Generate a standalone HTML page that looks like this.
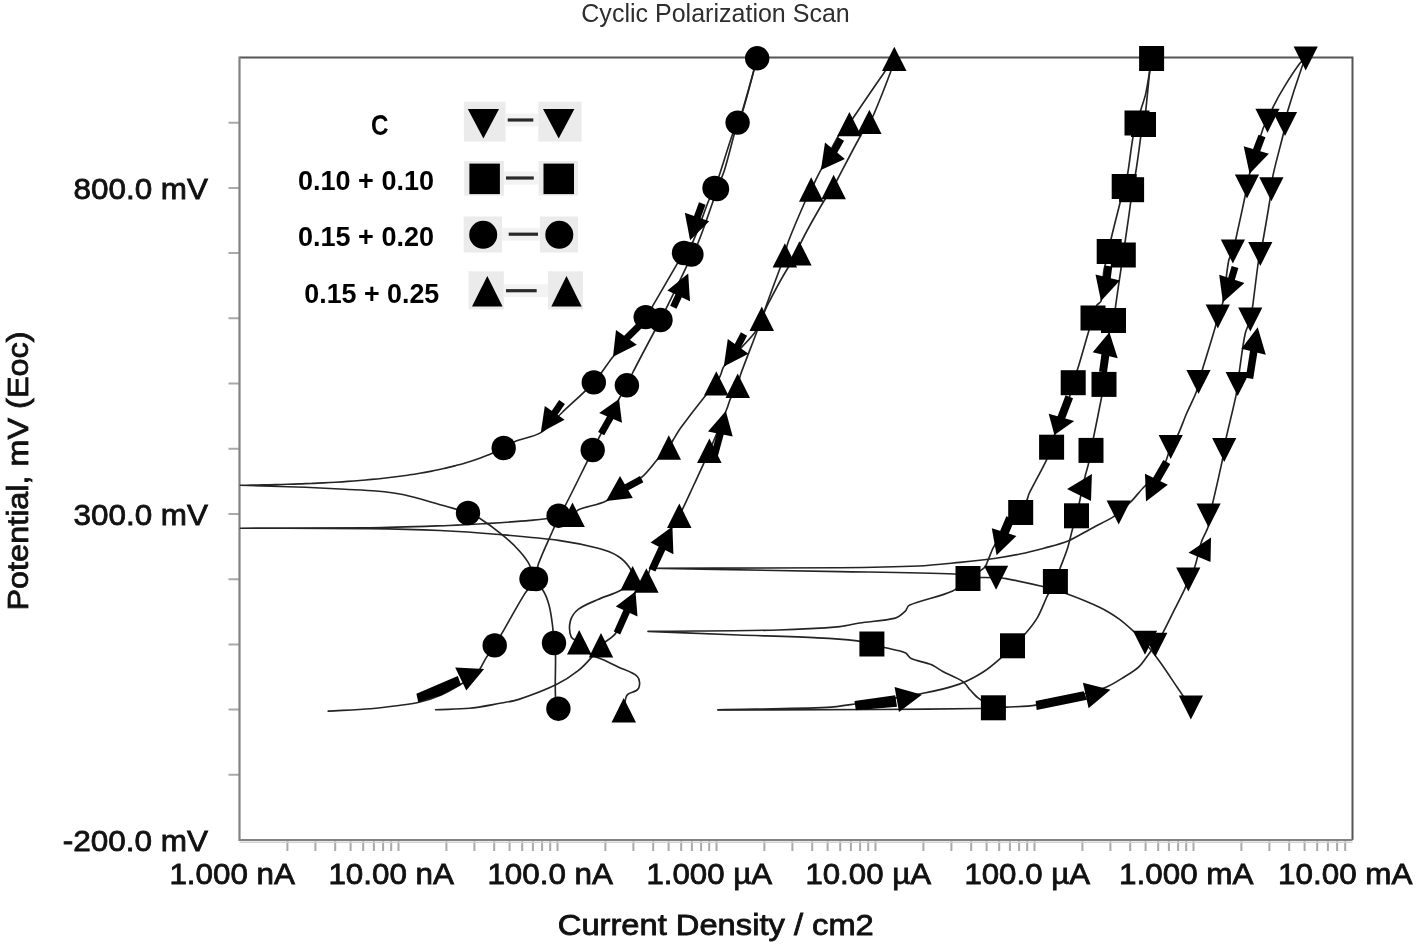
<!DOCTYPE html><html><head><meta charset="utf-8"><style>html,body{margin:0;padding:0;background:#fff;}svg{display:block;}</style></head><body>
<svg width="1416" height="946" viewBox="0 0 1416 946">
<rect width="100%" height="100%" fill="#fff"/>
<text x="581.3" y="22.4" font-family="Liberation Sans, Arial, sans-serif" font-size="25.6" fill="#2e2e2e" textLength="268.5" lengthAdjust="spacingAndGlyphs">Cyclic Polarization Scan</text>
<path d="M228.5 774.8H239.5 M228.5 709.6H239.5 M228.5 644.4H239.5 M228.5 579.2H239.5 M228.5 514.0H239.5 M228.5 448.8H239.5 M228.5 383.5H239.5 M228.5 318.3H239.5 M228.5 253.1H239.5 M228.5 187.9H239.5 M228.5 122.7H239.5 M287.4 840V851 M315.4 840V851 M335.2 840V851 M350.6 840V851 M363.2 840V851 M373.9 840V851 M383.1 840V851 M391.2 840V851 M398.5 840V851 M446.4 840V851 M474.4 840V851 M494.2 840V851 M509.6 840V851 M522.2 840V851 M532.9 840V851 M542.1 840V851 M550.2 840V851 M557.5 840V851 M605.4 840V851 M633.4 840V851 M653.2 840V851 M668.6 840V851 M681.2 840V851 M691.9 840V851 M701.1 840V851 M709.2 840V851 M716.5 840V851 M764.4 840V851 M792.4 840V851 M812.2 840V851 M827.6 840V851 M840.2 840V851 M850.9 840V851 M860.1 840V851 M868.2 840V851 M875.5 840V851 M923.4 840V851 M951.4 840V851 M971.2 840V851 M986.6 840V851 M999.2 840V851 M1009.9 840V851 M1019.1 840V851 M1027.2 840V851 M1034.5 840V851 M1082.4 840V851 M1110.4 840V851 M1130.2 840V851 M1145.6 840V851 M1158.2 840V851 M1168.9 840V851 M1178.1 840V851 M1186.2 840V851 M1193.5 840V851 M1241.4 840V851 M1269.4 840V851 M1289.2 840V851 M1304.6 840V851 M1317.2 840V851 M1327.9 840V851 M1337.1 840V851 M1345.2 840V851" stroke="#aaaaaa" stroke-width="2" fill="none"/>
<path d="M239.5 842.2H1352.5" stroke="#d2d2d2" stroke-width="1.6"/>
<path d="M239.5 57.5H1352.5V840" stroke="#555" stroke-width="2" fill="none"/>
<path d="M239.5 56.5V840H1352.5" stroke="#828282" stroke-width="2.2" fill="none"/>
<text x="73.5" y="198.7" font-family="Liberation Sans, Arial, sans-serif" stroke="#111" stroke-width="0.8" font-size="29" fill="#111" textLength="134.5" lengthAdjust="spacingAndGlyphs">800.0 mV</text>
<text x="73.5" y="524.8" font-family="Liberation Sans, Arial, sans-serif" stroke="#111" stroke-width="0.8" font-size="29" fill="#111" textLength="134.5" lengthAdjust="spacingAndGlyphs">300.0 mV</text>
<text x="62.7" y="850.8" font-family="Liberation Sans, Arial, sans-serif" stroke="#111" stroke-width="0.8" font-size="29" fill="#111" textLength="145.3" lengthAdjust="spacingAndGlyphs">-200.0 mV</text>
<text x="169.4" y="884.3" font-family="Liberation Sans, Arial, sans-serif" stroke="#111" stroke-width="0.8" font-size="28.8" fill="#111" textLength="125.6" lengthAdjust="spacingAndGlyphs">1.000 nA</text>
<text x="328.4" y="884.3" font-family="Liberation Sans, Arial, sans-serif" stroke="#111" stroke-width="0.8" font-size="28.8" fill="#111" textLength="125.6" lengthAdjust="spacingAndGlyphs">10.00 nA</text>
<text x="487.4" y="884.3" font-family="Liberation Sans, Arial, sans-serif" stroke="#111" stroke-width="0.8" font-size="28.8" fill="#111" textLength="125.6" lengthAdjust="spacingAndGlyphs">100.0 nA</text>
<text x="646.4" y="884.3" font-family="Liberation Sans, Arial, sans-serif" stroke="#111" stroke-width="0.8" font-size="28.8" fill="#111" textLength="125.6" lengthAdjust="spacingAndGlyphs">1.000 µA</text>
<text x="805.4" y="884.3" font-family="Liberation Sans, Arial, sans-serif" stroke="#111" stroke-width="0.8" font-size="28.8" fill="#111" textLength="125.6" lengthAdjust="spacingAndGlyphs">10.00 µA</text>
<text x="964.4" y="884.3" font-family="Liberation Sans, Arial, sans-serif" stroke="#111" stroke-width="0.8" font-size="28.8" fill="#111" textLength="125.6" lengthAdjust="spacingAndGlyphs">100.0 µA</text>
<text x="1119.0" y="884.3" font-family="Liberation Sans, Arial, sans-serif" stroke="#111" stroke-width="0.8" font-size="28.8" fill="#111" textLength="134.5" lengthAdjust="spacingAndGlyphs">1.000 mA</text>
<text x="1278.0" y="884.3" font-family="Liberation Sans, Arial, sans-serif" stroke="#111" stroke-width="0.8" font-size="28.8" fill="#111" textLength="134.5" lengthAdjust="spacingAndGlyphs">10.00 mA</text>
<text x="557.8" y="934.6" font-family="Liberation Sans, Arial, sans-serif" stroke="#111" stroke-width="0.8" font-size="28.8" fill="#111" textLength="316" lengthAdjust="spacingAndGlyphs">Current Density / cm2</text>
<text transform="translate(27.6,610.5) rotate(-90)" x="0" y="0" font-family="Liberation Sans, Arial, sans-serif" stroke="#111" stroke-width="0.8" font-size="29.5" fill="#111" textLength="279" lengthAdjust="spacingAndGlyphs">Potential, mV (Eoc)</text>
<text x="371" y="135.3" font-family="Liberation Sans, Arial, sans-serif" font-weight="bold" font-size="29.5" fill="#000" textLength="17.5" lengthAdjust="spacingAndGlyphs">C</text>
<text x="298" y="190.2" font-family="Liberation Sans, Arial, sans-serif" font-weight="bold" font-size="27.5" fill="#000" textLength="136" lengthAdjust="spacingAndGlyphs">0.10 + 0.10</text>
<text x="298" y="245.7" font-family="Liberation Sans, Arial, sans-serif" font-weight="bold" font-size="27.5" fill="#000" textLength="136" lengthAdjust="spacingAndGlyphs">0.15 + 0.20</text>
<text x="304.3" y="303.4" font-family="Liberation Sans, Arial, sans-serif" font-weight="bold" font-size="27.5" fill="#000" textLength="135" lengthAdjust="spacingAndGlyphs">0.15 + 0.25</text>
<rect x="463.9" y="101.7" width="41.6" height="39.9" fill="#ebebeb"/>
<rect x="538.3" y="101.7" width="43.3" height="39.9" fill="#ebebeb"/>
<rect x="505.5" y="113.5" width="32.8" height="13" fill="#f3f3f3"/>
<path d="M507.7 120H533.3" stroke="#2a2a2a" stroke-width="3.2"/>
<rect x="464.2" y="161" width="39.7" height="34.6" fill="#ebebeb"/>
<rect x="538.6" y="161" width="39.3" height="34.6" fill="#ebebeb"/>
<rect x="503.9" y="171.5" width="34.7" height="13" fill="#f3f3f3"/>
<path d="M506 178H533.8" stroke="#2a2a2a" stroke-width="3.2"/>
<rect x="463.7" y="216.5" width="38.3" height="36.0" fill="#ebebeb"/>
<rect x="539.9" y="216.5" width="38.1" height="36.0" fill="#ebebeb"/>
<rect x="502" y="227.7" width="37.9" height="13" fill="#f3f3f3"/>
<path d="M508.7 234.2H538" stroke="#2a2a2a" stroke-width="3.2"/>
<rect x="468.6" y="271.3" width="35.2" height="38.2" fill="#ebebeb"/>
<rect x="548" y="271.3" width="35.0" height="38.2" fill="#ebebeb"/>
<rect x="503.8" y="284.2" width="44.2" height="13" fill="#f3f3f3"/>
<path d="M506 290.7H536.7" stroke="#2a2a2a" stroke-width="3.2"/>
<path d="M467.8 109.0H499.0L483.4 138.6Z" fill="#000"/>
<path d="M543.0 109.0H574.4L558.7 138.6Z" fill="#000"/>
<rect x="469.4" y="163.6" width="30.5" height="30.5" fill="#000"/>
<rect x="543.5" y="163.6" width="30.5" height="30.5" fill="#000"/>
<circle cx="483.2" cy="234.8" r="14" fill="#000"/>
<circle cx="559.3" cy="234.8" r="14" fill="#000"/>
<path d="M472.0 306.4H502.6L487.3 275.9Z" fill="#000"/>
<path d="M551.3 306.4H581.7L566.5 275.9Z" fill="#000"/>
<path d="M328.2 711.1 C342.3 710.3 357.9 709.7 370.6 708.7 C379.1 708.0 390.4 706.6 398.9 705.5 C405.3 704.6 413.8 703.6 420.0 702.0 C426.5 700.4 435.0 697.5 441.2 694.9 C447.0 692.4 454.2 688.2 459.6 685.0 C464.9 681.9 472.3 678.1 476.6 673.7 C480.6 669.6 483.3 662.2 486.4 657.4 C488.8 653.7 492.3 649.1 494.7 645.4 C497.0 641.8 499.9 636.9 502.0 633.2 C508.9 621.3 517.5 605.2 524.8 593.6 C527.7 588.9 533.7 584.0 536.0 579.0 C537.8 575.0 536.7 568.7 538.2 564.5 C542.2 553.1 549.4 538.6 554.1 527.5 C555.6 524.0 556.9 519.1 558.6 515.7 C560.4 512.2 563.8 508.2 565.6 504.8 C572.4 491.9 580.8 474.4 587.3 461.3 C589.0 457.9 591.0 453.3 592.7 450.0 C600.5 434.7 611.0 414.2 619.0 399.0 C621.2 394.8 624.7 389.5 626.9 385.3 C628.9 381.5 630.9 376.3 632.8 372.5 C639.2 360.0 648.0 343.4 654.6 331.0 C656.3 327.7 658.8 323.4 660.5 320.0 C668.3 304.4 678.6 283.5 686.0 267.7 C687.8 263.8 689.5 258.3 691.4 254.5 C693.1 250.9 696.5 246.7 698.0 243.0 C703.0 230.8 708.5 214.1 712.9 201.7 C714.2 197.9 715.6 192.8 717.0 189.0 C719.1 183.2 722.7 175.9 724.5 170.0 C728.9 155.9 733.2 136.7 737.6 122.6 C738.7 119.0 741.6 114.8 742.7 111.2 C747.5 95.5 752.4 75.9 757.2 58.3" stroke="#242424" stroke-width="1.65" fill="none" stroke-linejoin="round" stroke-linecap="round"/>
<path d="M757.2 58.3 C752.1 76.2 746.9 96.0 742.0 112.0 C741.0 115.3 739.0 119.4 737.6 122.6 C736.1 126.0 733.8 130.5 732.6 134.0 C728.1 146.9 722.9 164.4 718.6 177.3 C717.5 180.6 715.9 184.8 714.5 188.0 C712.8 191.9 710.2 196.8 708.6 200.7 C703.7 213.0 698.4 229.9 692.8 241.9 C691.0 245.7 686.5 249.5 684.0 253.0 C681.8 256.1 679.2 260.4 677.3 263.7 C669.8 276.4 660.1 293.5 652.6 306.2 C650.6 309.5 648.1 314.1 645.7 317.1 C636.2 329.2 622.6 344.6 613.0 356.7 C607.0 364.2 600.3 375.3 593.8 382.4 C585.1 391.9 572.0 403.1 562.6 412.0 C556.1 418.2 548.4 427.9 540.8 432.6 C533.8 436.9 522.6 438.4 515.0 441.5 C511.4 443.0 507.2 446.2 503.7 448.0 C500.2 449.8 495.4 452.0 491.7 453.6 C488.2 455.1 483.3 456.9 479.7 458.2 C476.1 459.5 471.3 461.1 467.7 462.2 C464.1 463.3 459.3 464.6 455.7 465.6 C452.1 466.5 447.3 467.7 443.7 468.5 C440.1 469.3 435.3 470.4 431.7 471.1 C428.1 471.8 423.3 472.7 419.7 473.3 C416.1 473.9 411.3 474.7 407.7 475.2 C404.1 475.7 399.3 476.3 395.7 476.8 C392.1 477.2 387.3 477.8 383.7 478.2 C380.1 478.6 375.3 479.1 371.7 479.4 C368.1 479.7 363.3 480.2 359.7 480.5 C356.1 480.8 351.3 481.1 347.7 481.4 C344.1 481.7 339.3 482.0 335.7 482.2 C332.1 482.4 327.3 482.7 323.7 482.9 C320.1 483.1 315.3 483.2 311.7 483.4 C308.1 483.5 303.3 483.8 299.7 483.9 C296.1 484.0 291.3 484.2 287.7 484.3 C284.1 484.4 279.3 484.5 275.7 484.6 C272.1 484.7 267.3 484.8 263.7 484.9 C260.1 485.0 255.3 485.0 251.7 485.1 C248.3 485.2 244.2 485.2 240.5 485.3 C262.1 486.0 285.8 486.6 305.2 487.3 C317.1 487.8 332.9 488.7 344.8 489.3 C354.2 489.8 366.7 490.1 376.0 491.0 C384.4 491.8 395.7 493.1 404.0 494.8 C414.3 497.0 427.7 501.1 437.8 504.0 C446.9 506.6 459.1 509.9 468.0 513.0 C471.7 514.3 476.7 516.4 480.0 518.5 C487.0 523.0 495.9 529.6 502.3 534.9 C507.7 539.3 514.6 545.5 519.2 550.7 C522.9 554.8 527.6 560.5 529.8 565.5 C531.4 569.2 529.6 575.2 531.5 578.8 C533.7 582.9 540.0 585.8 542.6 589.7 C545.4 593.8 547.7 600.2 549.0 605.0 C550.7 611.0 551.7 619.2 552.5 625.3 C553.2 630.6 553.5 637.7 554.0 643.0 C554.4 646.6 555.4 651.4 555.5 655.0 C555.8 667.6 554.8 684.4 555.5 697.0 C555.7 700.6 557.4 704.8 558.4 708.7" stroke="#242424" stroke-width="1.65" fill="none" stroke-linejoin="round" stroke-linecap="round"/>
<path d="M435.6 709.7 C446.9 709.2 459.4 709.3 469.5 708.3 C478.7 707.4 490.9 704.9 500.0 703.3 C505.7 702.3 513.4 701.2 518.9 699.4 C530.4 695.6 545.5 689.9 556.4 684.6 C563.4 681.2 572.1 675.5 578.2 670.7 C582.8 667.1 588.1 661.3 592.0 656.9 C594.9 653.6 597.9 648.4 601.0 645.3 C605.1 641.2 612.7 637.9 615.8 633.0 C623.2 621.4 628.6 603.5 635.5 591.6 C637.9 587.6 643.8 584.4 646.4 580.5 C648.2 577.7 648.3 573.0 649.7 570.0 C656.1 556.8 665.4 539.5 672.4 526.6 C674.3 523.2 677.5 519.1 679.3 515.7 C684.0 506.6 689.5 494.2 693.8 485.0 C698.5 474.8 704.9 461.1 709.4 450.8 C714.8 438.3 721.7 421.6 726.8 409.0 C728.1 405.8 729.2 401.3 730.7 398.2 C732.5 394.3 736.0 389.7 737.7 385.7 C739.0 382.5 739.4 377.8 740.6 374.5 C745.1 361.9 751.7 345.5 756.4 333.0 C758.0 328.7 760.1 323.0 761.8 318.7 C763.4 314.7 765.3 309.2 767.3 305.3 C773.2 293.8 781.2 278.7 788.0 267.7 C790.9 263.0 796.9 258.3 799.4 253.4 C800.7 250.9 799.0 246.6 800.2 244.1 C806.4 230.9 816.2 214.1 823.6 201.5 C826.3 196.9 830.8 191.5 833.6 187.0 C834.9 184.9 836.2 181.7 837.4 179.5 C844.4 166.3 853.4 148.6 860.7 135.5 C863.1 131.3 866.8 126.0 869.4 121.9 C870.6 120.0 872.4 117.6 873.3 115.5 C878.8 102.6 885.6 85.3 890.5 72.2 C891.9 68.3 893.0 63.3 894.3 58.9" stroke="#242424" stroke-width="1.65" fill="none" stroke-linejoin="round" stroke-linecap="round"/>
<path d="M894.3 58.9 C891.0 63.3 887.2 68.1 884.4 72.2 C874.9 85.8 862.5 104.0 853.3 117.7 C852.0 119.6 850.8 122.4 849.4 124.1 C846.4 127.7 841.2 131.5 838.7 135.5 C832.6 145.4 826.2 159.6 820.9 169.9 C819.8 171.9 818.4 174.6 817.4 176.7 C815.5 180.5 813.1 185.7 811.2 189.5 C809.4 193.1 806.7 197.8 805.1 201.5 C799.7 213.8 792.6 230.2 787.9 242.7 C786.5 246.4 786.1 251.7 784.9 255.4 C783.7 259.2 781.6 264.0 780.2 267.7 C775.7 279.8 769.7 296.0 765.3 308.2 C764.2 311.3 763.1 315.7 761.8 318.7 C759.9 323.1 757.5 329.2 754.5 333.0 C746.0 343.7 732.4 356.0 723.8 366.6 C722.2 368.6 721.8 372.2 720.8 374.5 C719.6 377.2 718.1 381.0 716.3 383.4 C713.3 387.5 708.2 392.2 705.0 396.2 C697.7 405.3 688.2 417.6 681.3 427.0 C678.7 430.6 675.7 435.7 673.4 439.5 C672.0 441.9 670.5 445.3 668.8 447.5 C665.8 451.3 660.9 455.7 657.6 459.3 C652.8 464.6 647.4 472.6 641.8 477.1 C631.8 485.2 617.5 495.0 606.1 500.9 C598.3 504.9 586.5 506.4 578.4 509.7 C576.3 510.6 574.8 514.2 572.5 514.7 C559.9 517.5 542.8 519.1 530.0 520.4 C515.9 521.8 497.1 522.9 483.0 523.8 C472.8 524.4 459.3 525.1 449.1 525.5 C425.4 526.3 393.7 527.5 370.0 527.8 C331.2 528.3 283.7 528.1 240.5 528.2 C283.7 528.3 331.2 528.2 370.0 528.6 C391.0 528.8 419.0 529.5 440.0 530.5 C457.8 531.3 481.5 533.0 499.3 534.5 C517.1 536.0 540.9 537.9 558.6 540.4 C570.6 542.1 586.5 545.2 598.2 548.3 C604.4 549.9 612.6 552.8 618.0 556.2 C622.2 558.8 627.0 563.8 629.8 568.0 C631.6 570.7 633.7 575.3 632.6 578.3 C630.9 582.7 625.7 587.2 621.7 589.7 C615.1 593.7 605.0 596.3 598.0 599.5 C592.0 602.2 583.4 605.3 578.2 609.4 C574.8 612.1 571.3 617.1 570.3 621.3 C569.2 625.9 569.4 632.7 571.3 637.1 C572.4 639.7 577.1 640.4 579.2 642.3 C582.7 645.5 586.1 651.2 590.0 654.0 C593.7 656.6 599.8 658.0 603.9 659.9 C608.1 661.8 613.6 664.7 617.7 666.8 C623.6 669.8 632.9 671.9 637.5 676.7 C640.0 679.3 640.2 685.4 638.5 688.5 C636.7 691.8 630.6 692.2 627.6 694.5 C626.6 695.3 626.0 697.1 625.7 698.4 C624.8 701.9 624.4 706.3 623.7 710.3" stroke="#242424" stroke-width="1.65" fill="none" stroke-linejoin="round" stroke-linecap="round"/>
<path d="M718.0 709.8 C754.3 709.0 794.3 708.8 827.0 707.4 C835.5 707.0 846.6 705.2 855.0 704.0 C875.4 701.0 902.7 697.1 923.0 693.3 C933.8 691.3 948.2 688.0 958.6 684.4 C966.1 681.8 975.6 676.7 982.4 672.5 C988.2 668.9 995.1 663.1 1000.2 658.6 C1004.2 655.1 1008.7 649.6 1012.5 645.8 C1016.4 641.9 1022.2 637.2 1025.9 633.0 C1029.8 628.5 1034.7 622.2 1037.7 617.1 C1041.3 610.9 1044.4 601.8 1047.6 595.4 C1049.7 591.1 1053.4 585.8 1055.4 581.5 C1057.1 577.8 1058.5 572.6 1059.9 568.8 C1062.2 562.5 1065.7 554.1 1067.7 547.7 C1069.5 542.0 1071.1 534.1 1072.7 528.3 C1073.7 524.5 1075.5 519.6 1076.5 515.8 C1077.7 511.3 1078.8 505.1 1079.8 500.5 C1081.5 492.8 1083.7 482.4 1085.5 474.7 C1086.3 471.5 1087.7 467.3 1088.4 464.1 C1089.3 460.0 1090.2 454.5 1091.0 450.4 C1091.8 446.4 1092.8 441.2 1093.6 437.2 C1096.0 425.3 1099.2 409.6 1101.5 397.7 C1102.3 393.7 1103.5 388.4 1104.0 384.4 C1105.9 368.8 1107.1 347.8 1109.4 332.2 C1109.9 328.5 1112.6 324.1 1113.5 320.5 C1114.5 316.4 1114.9 310.8 1115.5 306.6 C1117.1 295.3 1119.3 280.2 1121.0 268.9 C1121.6 264.7 1122.7 259.2 1123.3 255.0 C1123.9 251.3 1124.5 246.3 1125.0 242.6 C1126.7 230.4 1129.2 214.2 1130.7 202.0 C1131.2 198.3 1131.0 193.3 1131.6 189.7 C1132.3 185.3 1134.4 179.7 1135.2 175.4 C1136.6 167.8 1137.9 157.6 1139.0 150.0 C1139.6 146.0 1140.1 140.6 1140.8 136.6 C1141.4 132.9 1142.8 128.2 1143.5 124.5 C1144.3 120.2 1145.3 114.4 1145.8 110.0 C1147.1 98.6 1148.4 83.2 1149.7 71.8 C1150.2 67.8 1151.0 62.9 1151.6 58.5" stroke="#242424" stroke-width="1.65" fill="none" stroke-linejoin="round" stroke-linecap="round"/>
<path d="M1151.6 58.5 C1149.7 70.1 1148.0 83.0 1145.8 93.4 C1144.7 98.5 1142.3 104.9 1140.8 109.9 C1139.6 113.8 1138.1 119.1 1137.0 123.0 C1135.8 127.1 1133.9 132.4 1133.1 136.6 C1131.0 147.8 1129.6 162.9 1127.6 174.1 C1126.9 177.9 1125.2 182.8 1124.2 186.5 C1123.1 190.8 1121.7 196.5 1120.6 200.8 C1117.7 212.2 1113.7 227.3 1111.1 238.8 C1110.3 242.6 1110.1 247.7 1109.2 251.5 C1107.9 257.1 1104.9 264.3 1104.0 270.0 C1102.5 279.2 1102.9 291.9 1101.0 301.1 C1100.6 302.9 1097.4 303.8 1096.6 305.5 C1094.9 309.0 1094.1 314.3 1093.0 318.0 C1091.8 321.9 1090.0 327.1 1088.8 331.0 C1085.7 341.2 1082.0 354.8 1078.9 365.0 C1077.3 370.3 1074.8 377.3 1073.2 382.7 C1072.1 386.6 1071.3 391.9 1069.9 395.7 C1065.6 407.7 1058.7 423.1 1054.4 435.1 C1053.2 438.6 1052.7 443.6 1051.6 447.2 C1050.4 451.1 1048.4 456.2 1046.6 459.9 C1041.6 470.3 1034.0 483.7 1028.9 494.0 C1028.2 495.5 1027.9 497.8 1027.2 499.4 C1025.4 503.4 1023.3 509.0 1020.7 512.5 C1016.0 518.8 1007.9 525.8 1003.0 532.0 C999.6 536.4 995.9 542.8 993.3 547.7 C991.3 551.5 989.5 557.0 987.7 561.0 C986.8 563.0 986.1 566.2 984.4 567.7 C980.0 571.6 972.7 575.0 968.0 578.5 C963.2 582.0 958.1 588.5 952.7 591.0 C940.2 596.7 921.8 599.9 909.2 605.3 C907.2 606.1 906.9 609.8 905.3 611.2 C902.6 613.7 898.9 617.2 895.4 618.1 C885.0 620.8 870.5 621.4 859.8 623.0 C853.8 623.9 846.0 626.1 840.0 626.6 C821.5 628.2 796.8 629.5 778.2 630.0 C739.1 631.0 691.4 630.9 648.0 631.4 C678.2 632.6 711.4 634.0 738.6 635.0 C762.3 635.9 794.0 636.7 817.7 637.9 C829.6 638.5 845.5 639.6 857.3 640.9 C861.7 641.4 867.6 642.9 871.9 644.0 C876.0 645.0 881.4 646.7 885.5 647.8 C891.4 649.3 899.7 650.3 905.3 652.7 C907.6 653.7 908.9 657.5 911.2 658.6 C916.8 661.2 925.3 662.3 931.0 664.6 C934.8 666.1 939.2 669.6 942.8 671.5 C948.7 674.6 957.1 677.7 962.6 681.4 C965.6 683.4 968.1 687.7 970.5 690.3 C972.8 692.7 975.7 696.2 978.4 698.2 C982.6 701.4 988.4 704.6 993.4 707.8" stroke="#242424" stroke-width="1.65" fill="none" stroke-linejoin="round" stroke-linecap="round"/>
<path d="M718.0 710.0 C770.9 709.8 829.0 709.8 876.6 709.5 C907.1 709.3 947.9 709.1 978.4 708.5 C986.8 708.3 998.1 707.6 1006.5 707.1 C1015.3 706.6 1027.2 706.8 1035.8 705.1 C1056.5 701.0 1083.9 694.4 1104.0 688.0 C1110.8 685.8 1118.9 680.2 1125.0 676.5 C1129.4 673.8 1135.4 670.2 1139.1 666.6 C1142.6 663.2 1146.1 657.6 1149.0 653.7 C1151.0 651.1 1153.5 647.5 1155.3 644.8 C1157.6 641.3 1160.8 636.6 1162.8 632.9 C1166.6 625.9 1171.1 616.3 1174.7 609.2 C1177.7 603.3 1181.8 595.4 1184.6 589.4 C1185.9 586.5 1187.0 582.4 1188.3 579.5 C1190.0 575.9 1193.2 571.5 1194.5 567.7 C1197.1 560.2 1198.9 549.6 1201.4 542.0 C1203.0 537.1 1206.9 531.2 1208.3 526.2 C1209.1 523.1 1208.0 518.7 1208.6 515.5 C1209.2 512.1 1211.5 507.9 1212.3 504.5 C1215.5 491.5 1219.3 474.1 1222.2 461.0 C1222.9 457.7 1223.6 453.2 1224.2 449.9 C1224.8 446.4 1225.3 441.7 1226.1 438.2 C1228.9 425.4 1233.3 408.5 1236.0 395.7 C1236.7 392.2 1237.2 387.4 1237.7 383.9 C1238.2 380.5 1238.7 375.9 1239.2 372.5 C1240.9 360.9 1242.7 345.4 1245.1 334.0 C1246.0 329.5 1249.1 324.0 1250.3 319.6 C1251.3 316.0 1252.0 311.1 1252.5 307.4 C1254.4 293.6 1256.4 275.2 1258.4 261.5 C1258.7 259.2 1259.8 256.2 1260.3 253.9 C1261.1 250.0 1262.2 244.9 1262.9 241.0 C1265.0 229.5 1267.6 214.1 1269.5 202.5 C1270.2 198.5 1270.9 193.2 1271.4 189.2 C1272.0 184.8 1272.2 178.8 1273.2 174.4 C1276.1 161.0 1281.2 143.4 1284.3 130.0 C1284.7 128.2 1284.7 125.7 1285.0 123.9 C1285.7 120.0 1286.6 114.9 1287.7 111.1 C1291.7 97.7 1297.5 79.9 1302.1 66.6 C1303.0 64.1 1304.5 61.3 1305.7 58.6" stroke="#242424" stroke-width="1.65" fill="none" stroke-linejoin="round" stroke-linecap="round"/>
<path d="M1305.7 58.6 C1303.8 60.2 1301.3 61.5 1299.9 63.3 C1294.8 70.0 1288.8 79.4 1284.4 86.6 C1280.8 92.4 1276.3 100.4 1273.3 106.6 C1271.3 110.7 1269.5 116.6 1267.5 120.8 C1266.5 123.0 1264.1 125.4 1263.3 127.7 C1258.7 141.3 1253.4 159.8 1249.6 173.7 C1248.5 177.5 1247.8 182.7 1247.0 186.6 C1246.2 190.5 1245.2 195.6 1244.4 199.5 C1242.2 209.7 1239.3 223.4 1237.0 233.6 C1235.8 239.0 1234.5 246.2 1232.9 251.4 C1232.1 254.1 1229.4 257.2 1228.8 260.0 C1226.3 272.5 1225.3 289.7 1222.9 302.2 C1222.0 306.7 1219.1 312.2 1217.8 316.6 C1216.7 320.2 1215.9 325.2 1214.8 328.8 C1211.2 341.3 1206.0 357.8 1202.2 370.2 C1201.1 373.7 1199.5 378.4 1198.5 382.0 C1197.7 384.9 1197.5 389.0 1196.4 391.8 C1193.9 398.5 1189.4 406.9 1186.6 413.5 C1183.8 420.0 1180.7 428.9 1177.7 435.3 C1175.9 439.0 1172.4 443.4 1170.7 447.1 C1168.6 451.7 1167.4 458.5 1165.0 463.0 C1162.6 467.6 1158.4 473.1 1155.0 477.0 C1151.8 480.7 1146.4 484.5 1143.0 488.0 C1139.0 492.2 1134.3 498.4 1130.2 502.5 C1127.0 505.7 1122.2 509.5 1118.7 512.4 C1116.9 513.9 1114.6 516.2 1112.5 517.4 C1106.5 520.9 1098.1 524.9 1092.0 528.2 C1084.8 532.0 1075.5 537.9 1068.0 541.0 C1061.1 543.9 1051.3 546.2 1044.0 548.2 C1036.9 550.1 1027.3 552.5 1020.0 554.0 C1012.8 555.5 1003.2 557.2 996.0 558.2 C985.2 559.7 970.8 561.3 960.0 562.4 C947.6 563.6 931.1 565.5 918.7 566.0 C895.1 567.0 863.6 567.5 840.0 567.7 C783.0 568.2 713.3 568.1 650.0 568.3 C713.3 569.4 783.0 570.5 840.0 571.6 C874.4 572.2 920.3 572.5 954.7 574.0 C958.8 574.2 963.9 576.6 968.0 577.0 C976.4 577.8 987.7 577.3 996.1 577.7 C999.1 577.8 1003.1 578.0 1006.0 578.6 C1017.1 580.7 1031.8 583.8 1042.7 586.5 C1049.8 588.2 1059.2 590.9 1066.0 593.4 C1076.2 597.1 1089.7 602.5 1099.5 607.2 C1105.7 610.2 1113.6 615.1 1119.3 619.1 C1123.8 622.3 1129.2 627.3 1133.2 631.0 C1136.9 634.4 1141.7 639.0 1145.0 642.8 C1149.8 648.3 1155.7 656.1 1160.0 662.0 C1165.3 669.3 1171.9 679.5 1177.0 687.0 C1181.2 693.1 1186.3 700.7 1190.9 707.5" stroke="#242424" stroke-width="1.65" fill="none" stroke-linejoin="round" stroke-linecap="round"/>
<path d="M702.3 203.5 L695.9 220.9" stroke="#000" stroke-width="7" stroke-linecap="butt" fill="none"/><path d="M684.8 212.8 L690.1 240.3 L709.2 221.3Z" fill="#000"/>
<path d="M673.3 307.2 L680.3 292.2" stroke="#000" stroke-width="7" stroke-linecap="butt" fill="none"/><path d="M667.4 290.4 L688.2 273.6 L690.0 301.3Z" fill="#000"/>
<path d="M641.0 324.0 L624.1 340.7" stroke="#000" stroke-width="7" stroke-linecap="butt" fill="none"/><path d="M616.0 330.0 L613.0 356.7 L636.8 344.8Z" fill="#000"/>
<path d="M562.0 402.0 L552.4 416.2" stroke="#000" stroke-width="7" stroke-linecap="butt" fill="none"/><path d="M544.8 406.0 L540.8 432.6 L564.6 419.8Z" fill="#000"/>
<path d="M601.2 433.6 L612.2 414.1" stroke="#000" stroke-width="7" stroke-linecap="butt" fill="none"/><path d="M599.2 412.9 L619.0 399.0 L622.0 422.7Z" fill="#000"/>
<path d="M841.0 139.0 L832.6 153.9" stroke="#000" stroke-width="7" stroke-linecap="butt" fill="none"/><path d="M825.0 142.4 L820.9 169.9 L844.9 158.9Z" fill="#000"/>
<path d="M744.0 334.0 L735.8 349.6" stroke="#000" stroke-width="7" stroke-linecap="butt" fill="none"/><path d="M727.8 338.9 L723.8 366.6 L748.5 353.7Z" fill="#000"/>
<path d="M714.0 457.0 L721.3 430.2" stroke="#000" stroke-width="7" stroke-linecap="butt" fill="none"/><path d="M708.0 431.6 L725.8 410.9 L732.7 436.6Z" fill="#000"/>
<path d="M641.7 479.1 L623.1 489.3" stroke="#000" stroke-width="7" stroke-linecap="butt" fill="none"/><path d="M620.0 476.1 L606.1 500.9 L632.8 497.9Z" fill="#000"/>
<path d="M652.0 570.0 L663.7 544.7" stroke="#000" stroke-width="7.5" stroke-linecap="butt" fill="none"/><path d="M650.6 542.4 L672.4 526.6 L673.4 554.2Z" fill="#000"/>
<path d="M617.0 633.0 L628.3 607.8" stroke="#000" stroke-width="7" stroke-linecap="butt" fill="none"/><path d="M615.8 606.5 L635.5 591.6 L637.5 616.4Z" fill="#000"/>
<path d="M1108.5 266.0 L1106.6 281.3" stroke="#000" stroke-width="7.5" stroke-linecap="butt" fill="none"/><path d="M1095.5 274.4 L1101.0 301.1 L1119.9 280.5Z" fill="#000"/>
<path d="M1103.0 372.0 L1105.9 351.3" stroke="#000" stroke-width="8" stroke-linecap="butt" fill="none"/><path d="M1092.7 352.2 L1109.4 332.2 L1117.7 358.3Z" fill="#000"/>
<path d="M1069.3 396.8 L1060.0 421.1" stroke="#000" stroke-width="8" stroke-linecap="butt" fill="none"/><path d="M1048.7 413.8 L1054.4 435.1 L1074.2 420.9Z" fill="#000"/>
<path d="M1010.5 518.0 L1002.9 535.9" stroke="#000" stroke-width="9" stroke-linecap="butt" fill="none"/><path d="M991.8 528.2 L996.6 555.2 L1016.4 536.0Z" fill="#000"/>
<path d="M1262.0 136.0 L1255.2 153.9" stroke="#000" stroke-width="7.5" stroke-linecap="butt" fill="none"/><path d="M1243.7 146.3 L1249.6 173.7 L1268.8 153.7Z" fill="#000"/>
<path d="M1235.0 267.0 L1230.4 282.6" stroke="#000" stroke-width="7" stroke-linecap="butt" fill="none"/><path d="M1219.2 274.8 L1222.9 302.2 L1244.4 282.9Z" fill="#000"/>
<path d="M1249.5 378.4 L1254.3 347.8" stroke="#000" stroke-width="7.5" stroke-linecap="butt" fill="none"/><path d="M1241.4 348.8 L1257.7 327.3 L1265.8 354.7Z" fill="#000"/>
<path d="M1166.8 462.0 L1154.7 482.9" stroke="#000" stroke-width="8" stroke-linecap="butt" fill="none"/><path d="M1145.0 473.8 L1146.0 501.5 L1167.8 484.7Z" fill="#000"/>
<path d="M416.4 693.8 L457.8 676.0 L461.0 684.9 L441.0 695.2 L418.3 702.2 Z" fill="#000"/>
<path d="M455.2 667.4 L484.1 669.0 L466.3 690.6 Z" fill="#000"/>
<path d="M854.5 701.0 L895.2 695.3 L897.0 706.8 L855.8 710.3 Z" fill="#000"/>
<path d="M894.6 687.1 L921.9 694.7 L899.0 711.9 Z" fill="#000"/>
<path d="M1035.6 701.1 L1083.6 691.2 L1087.1 699.7 L1036.7 710.0 Z" fill="#000"/>
<path d="M1082.9 682.8 L1110.5 689.8 L1088.6 708.2 Z" fill="#000"/>
<path d="M1067.1 488.9 L1091.9 474 L1091 501 Z" fill="#000"/>
<path d="M1188.5 552.7 L1211 537.5 L1210.5 562 Z" fill="#000"/>
<circle cx="757.2" cy="58.3" r="12.2" fill="#000"/>
<circle cx="737.6" cy="122.6" r="12.2" fill="#000"/>
<circle cx="714.5" cy="188.0" r="12.2" fill="#000"/>
<circle cx="717.0" cy="189.0" r="12.2" fill="#000"/>
<circle cx="684.0" cy="253.0" r="12.2" fill="#000"/>
<circle cx="691.4" cy="254.5" r="12.2" fill="#000"/>
<circle cx="645.7" cy="317.1" r="12.2" fill="#000"/>
<circle cx="660.5" cy="320.0" r="12.2" fill="#000"/>
<circle cx="593.8" cy="382.4" r="12.2" fill="#000"/>
<circle cx="626.9" cy="385.3" r="12.2" fill="#000"/>
<circle cx="503.7" cy="448.0" r="12.2" fill="#000"/>
<circle cx="592.7" cy="450.0" r="12.2" fill="#000"/>
<circle cx="468.0" cy="513.0" r="12.2" fill="#000"/>
<circle cx="558.6" cy="515.7" r="12.2" fill="#000"/>
<circle cx="531.5" cy="578.8" r="12.2" fill="#000"/>
<circle cx="536.0" cy="579.0" r="12.2" fill="#000"/>
<circle cx="494.7" cy="645.4" r="12.2" fill="#000"/>
<circle cx="554.0" cy="643.0" r="12.2" fill="#000"/>
<circle cx="558.4" cy="708.7" r="12.2" fill="#000"/>
<path d="M882.0 71.1H906.5L894.3 46.7Z" fill="#000"/>
<path d="M837.1 136.3H861.6L849.4 111.9Z" fill="#000"/>
<path d="M857.1 134.1H881.6L869.4 109.7Z" fill="#000"/>
<path d="M799.0 201.7H823.5L811.2 177.3Z" fill="#000"/>
<path d="M821.4 199.2H845.9L833.6 174.8Z" fill="#000"/>
<path d="M772.6 267.6H797.1L784.9 243.2Z" fill="#000"/>
<path d="M787.1 265.6H811.6L799.4 241.2Z" fill="#000"/>
<path d="M749.5 330.9H774.0L761.8 306.5Z" fill="#000"/>
<path d="M704.0 395.6H728.5L716.3 371.2Z" fill="#000"/>
<path d="M725.5 397.9H750.0L737.7 373.5Z" fill="#000"/>
<path d="M656.5 459.7H681.0L668.8 435.3Z" fill="#000"/>
<path d="M697.1 463.0H721.6L709.4 438.6Z" fill="#000"/>
<path d="M560.2 526.9H584.8L572.5 502.5Z" fill="#000"/>
<path d="M667.0 527.9H691.5L679.3 503.5Z" fill="#000"/>
<path d="M620.4 590.5H644.9L632.6 566.1Z" fill="#000"/>
<path d="M634.1 592.7H658.6L646.4 568.3Z" fill="#000"/>
<path d="M567.0 654.5H591.5L579.2 630.1Z" fill="#000"/>
<path d="M588.8 657.5H613.2L601.0 633.1Z" fill="#000"/>
<path d="M611.5 722.5H636.0L623.7 698.1Z" fill="#000"/>
<rect x="1139.1" y="46.0" width="25" height="25" fill="#000"/>
<rect x="1124.5" y="110.5" width="25" height="25" fill="#000"/>
<rect x="1131.0" y="112.0" width="25" height="25" fill="#000"/>
<rect x="1111.7" y="174.0" width="25" height="25" fill="#000"/>
<rect x="1119.1" y="177.2" width="25" height="25" fill="#000"/>
<rect x="1096.7" y="239.0" width="25" height="25" fill="#000"/>
<rect x="1110.8" y="242.5" width="25" height="25" fill="#000"/>
<rect x="1080.5" y="305.5" width="25" height="25" fill="#000"/>
<rect x="1101.0" y="308.0" width="25" height="25" fill="#000"/>
<rect x="1060.7" y="370.2" width="25" height="25" fill="#000"/>
<rect x="1091.5" y="371.9" width="25" height="25" fill="#000"/>
<rect x="1039.1" y="434.7" width="25" height="25" fill="#000"/>
<rect x="1078.5" y="437.9" width="25" height="25" fill="#000"/>
<rect x="1008.2" y="500.0" width="25" height="25" fill="#000"/>
<rect x="1064.0" y="503.3" width="25" height="25" fill="#000"/>
<rect x="955.5" y="566.0" width="25" height="25" fill="#000"/>
<rect x="1042.9" y="569.0" width="25" height="25" fill="#000"/>
<rect x="859.4" y="631.5" width="25" height="25" fill="#000"/>
<rect x="1000.0" y="633.3" width="25" height="25" fill="#000"/>
<rect x="980.9" y="695.3" width="25" height="25" fill="#000"/>
<path d="M1293.6 46.6H1317.8L1305.7 70.6Z" fill="#000"/>
<path d="M1255.4 108.8H1279.6L1267.5 132.8Z" fill="#000"/>
<path d="M1272.9 111.9H1297.1L1285.0 135.9Z" fill="#000"/>
<path d="M1234.9 174.6H1259.1L1247.0 198.6Z" fill="#000"/>
<path d="M1259.3 177.2H1283.5L1271.4 201.2Z" fill="#000"/>
<path d="M1220.8 239.4H1245.0L1232.9 263.4Z" fill="#000"/>
<path d="M1248.2 241.9H1272.4L1260.3 265.9Z" fill="#000"/>
<path d="M1205.7 304.6H1229.9L1217.8 328.6Z" fill="#000"/>
<path d="M1238.2 307.6H1262.4L1250.3 331.6Z" fill="#000"/>
<path d="M1186.4 370.0H1210.6L1198.5 394.0Z" fill="#000"/>
<path d="M1225.6 371.9H1249.8L1237.7 395.9Z" fill="#000"/>
<path d="M1158.6 435.1H1182.8L1170.7 459.1Z" fill="#000"/>
<path d="M1212.1 437.9H1236.3L1224.2 461.9Z" fill="#000"/>
<path d="M1106.6 500.4H1130.8L1118.7 524.4Z" fill="#000"/>
<path d="M1196.5 503.5H1220.7L1208.6 527.5Z" fill="#000"/>
<path d="M984.0 565.7H1008.2L996.1 589.7Z" fill="#000"/>
<path d="M1176.2 567.5H1200.4L1188.3 591.5Z" fill="#000"/>
<path d="M1132.9 630.8H1157.1L1145.0 654.8Z" fill="#000"/>
<path d="M1143.2 632.8H1167.4L1155.3 656.8Z" fill="#000"/>
<path d="M1178.8 695.5H1203.0L1190.9 719.5Z" fill="#000"/>
</svg></body></html>
